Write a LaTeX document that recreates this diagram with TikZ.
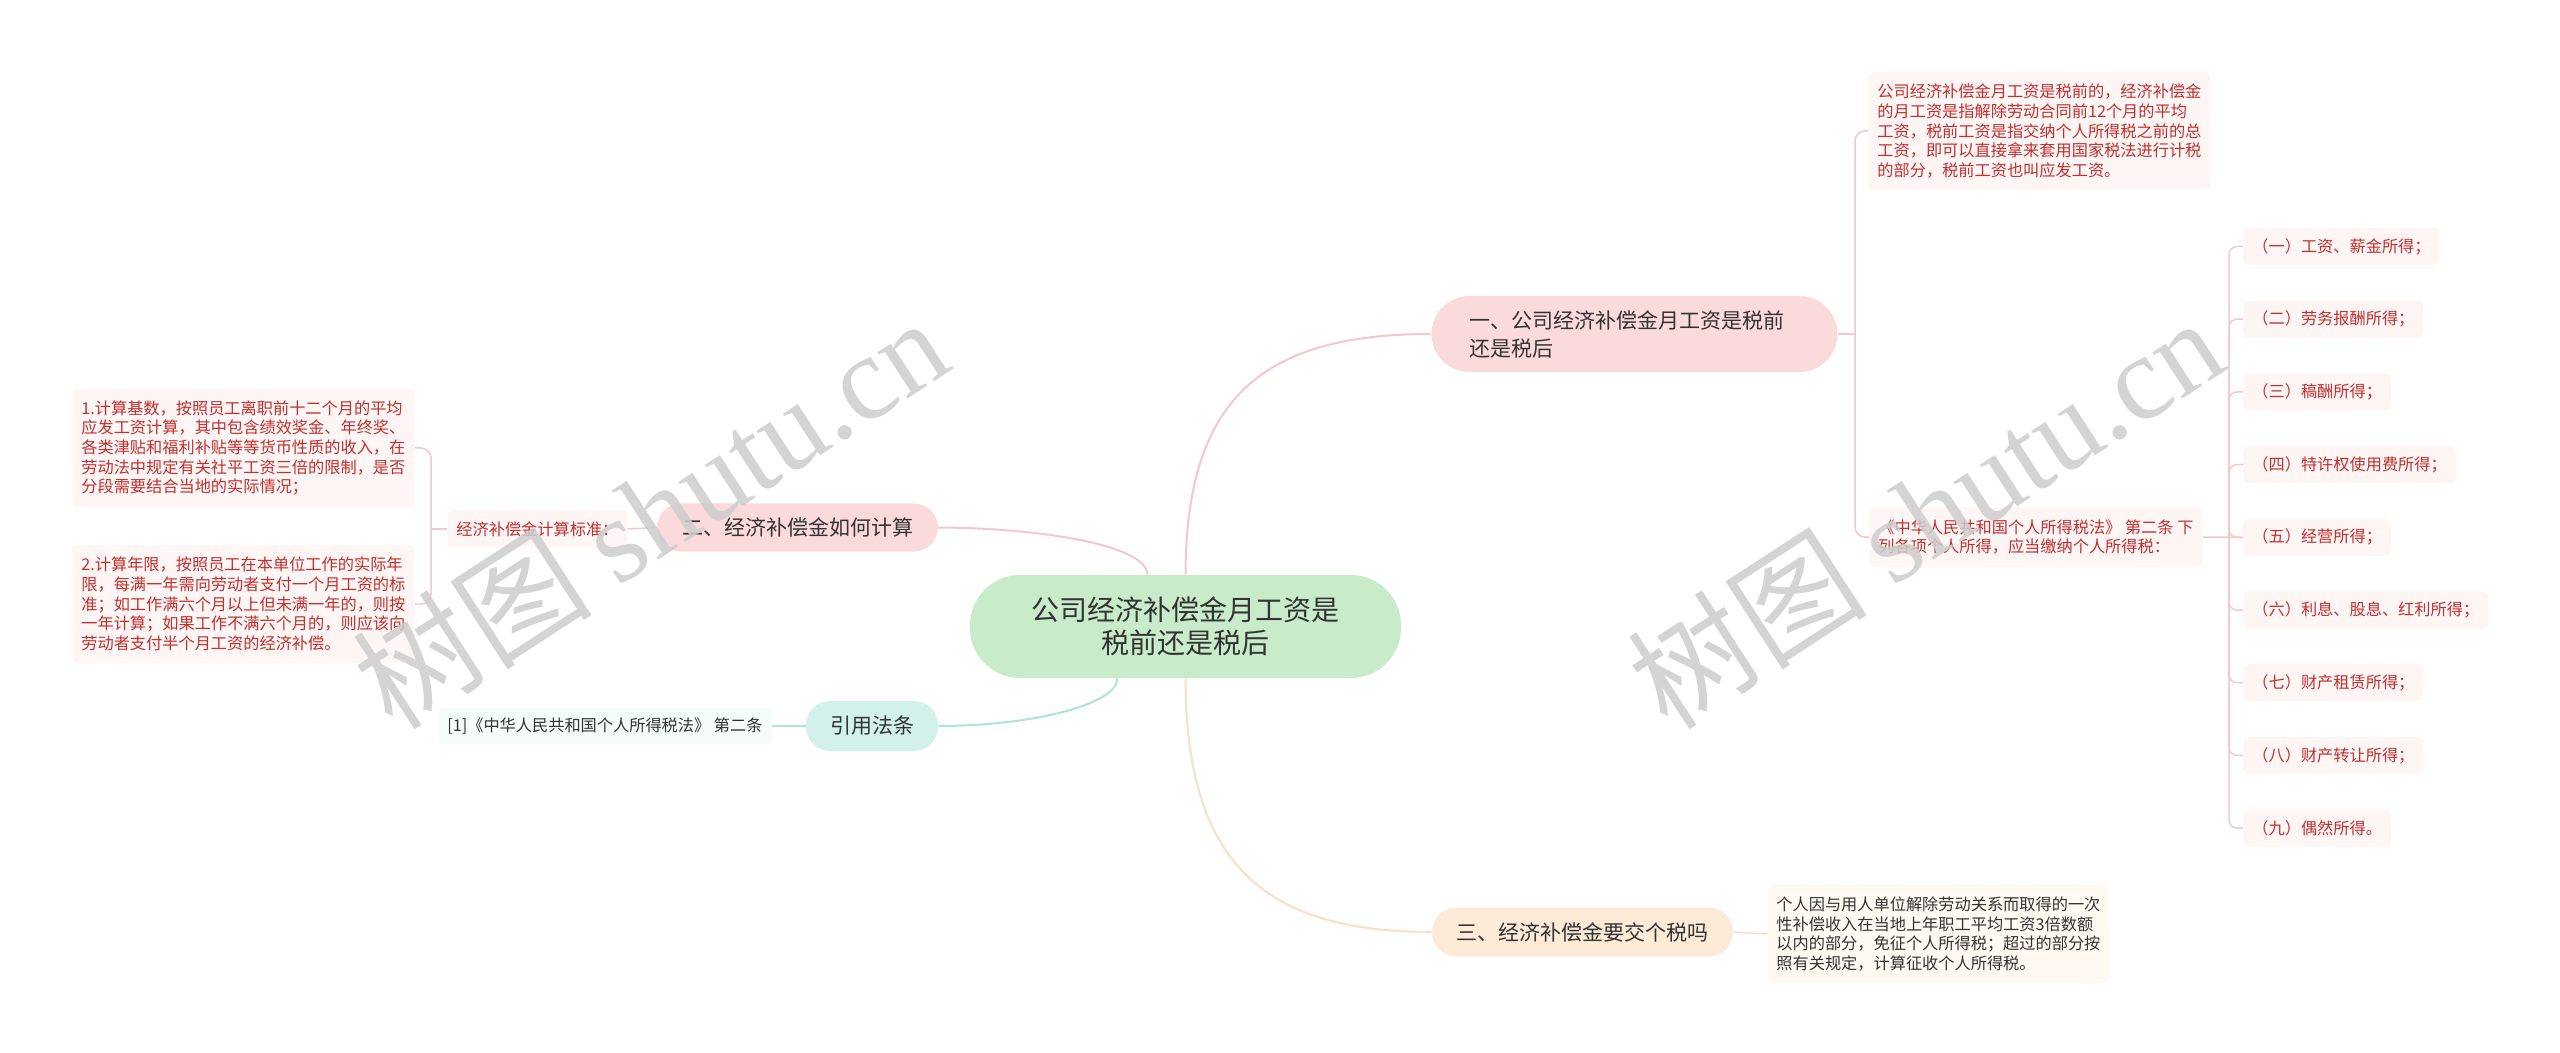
\documentclass[tikz,border=0pt]{standalone}
\usepackage{fontspec}
\setmainfont{Noto Sans CJK SC}
\newfontfamily\marklatin{Liberation Serif}
\usepackage{xcolor}
\definecolor{maptext}{HTML}{333333}
\definecolor{mapred}{HTML}{C0302E}
\definecolor{rootgreen}{HTML}{C8EBCA}
\definecolor{secpink}{HTML}{FADADB}
\definecolor{secteal}{HTML}{D2F1EA}
\definecolor{secpeach}{HTML}{FDEBD8}
\definecolor{leafpink}{HTML}{FEF5F5}
\definecolor{leafteal}{HTML}{F4FBF9}
\definecolor{leafpeach}{HTML}{FFF9F2}
\definecolor{linepink}{HTML}{F3C8CA}
\definecolor{lineteal}{HTML}{AEE3D7}
\definecolor{linepeach}{HTML}{FBDEC5}
\definecolor{marktext}{HTML}{CDCDCD}

\begin{document}
\begin{tikzpicture}[
  x=0.5pt,
  y=-0.5pt,
  every node/.style={text=maptext},
  rootbox/.style={fill=rootgreen, rounded corners=25pt, align=center,
    font=\fontsize{14}{16.5}\selectfont, minimum width=215.5pt, minimum height=51.5pt},
  secbox/.style={rounded corners=12pt, font=\fontsize{10.5}{14}\selectfont, minimum height=24pt},
  leafbox/.style={rounded corners=2.5pt, align=left, anchor=west,
    font=\fontsize{8.1}{9.8}\selectfont, inner xsep=4.5pt, inner ysep=6pt},
  redleaf/.style={leafbox, fill=leafpink, text=mapred},
  itembox/.style={redleaf, inner ysep=0pt, minimum height=18.5pt},
  trunk/.style={line width=1pt},
  twig/.style={line width=0.75pt},
  watermark/.style={text=marktext, text opacity=0.85, font=\fontsize{60}{60}\selectfont, rotate=33}
]
  % ---- page, same size as the screenshot -------------------------------
  \useasboundingbox (0,0) rectangle (2560,1053);

  % ---- centre topic ----------------------------------------------------
  \node[rootbox] (root) at (1185.5,626.5) {公司经济补偿金月工资是\\税前还是税后};

  % ---- the four main topics --------------------------------------------
  \node[secbox, fill=secpink, align=left, text width=165pt, inner xsep=19pt,
        minimum height=38pt, rounded corners=19pt] (pretax) at (1634.5,334)
    {一、公司经济补偿金月工资是税前\\还是税后};
  \node[secbox, fill=secpink, minimum width=140.5pt] (calc) at (797.5,527.5)
    {二、经济补偿金如何计算};
  \node[secbox, fill=secteal, minimum width=66pt, minimum height=25pt] (cite) at (872,726)
    {引用法条};
  \node[secbox, fill=secpeach, minimum width=150.5pt, minimum height=24.5pt] (tax) at (1582.5,932)
    {三、经济补偿金要交个税吗};

  % ---- trunk curves ----------------------------------------------------
  \draw[trunk, linepink] (root.north) .. controls (1186,400) and (1260,334) .. (pretax.west);
  \draw[trunk, linepink] ([xshift=-19pt]root.north) .. controls (1147,545) and (1040,528) .. (calc.east);
  \draw[trunk, lineteal] ([xshift=-34pt]root.south) .. controls (1117,705) and (1030,726) .. (cite.east);
  \draw[trunk, linepeach] (root.south) .. controls (1186,860) and (1260,932) .. (tax.west);

  % ---- first topic: leaves ---------------------------------------------
  \node[redleaf] (pretaxnote) at (1868,131)
    {公司经济补偿金月工资是税前的，经济补偿金\\的月工资是指解除劳动合同前12个月的平均\\工资，税前工资是指交纳个人所得税之前的总\\工资，即可以直接拿来套用国家税法进行计税\\的部分，税前工资也叫应发工资。};
  \node[redleaf] (lawtwo) at (1869,537)
    {《中华人民共和国个人所得税法》 第二条 下\\列各项个人所得，应当缴纳个人所得税：};
  \coordinate (pretaxfork) at (1855,334);
  \draw[twig, linepink] (pretax.east) -- (pretaxfork);
  \draw[twig, linepink, rounded corners=5pt] (pretaxnote.west) -| (pretaxfork) |- (lawtwo.west);

  % ---- the nine kinds of income ----------------------------------------
  \foreach \k/\txt in {1/（一）工资、薪金所得；, 2/（二）劳务报酬所得；, 3/（三）稿酬所得；,
      4/（四）特许权使用费所得；, 5/（五）经营所得；, 6/（六）利息、股息、红利所得；,
      7/（七）财产租赁所得；, 8/（八）财产转让所得；, 9/（九）偶然所得。}
    \node[itembox] (income\k) at (2243,{246.5+72.7*(\k-1)}) {\txt};
  \coordinate (incomefork) at (2229,537);
  \draw[twig, linepink] (lawtwo.east) -- (income5.west);
  \foreach \k in {1,...,9}
    \draw[twig, linepink, rounded corners=4pt] (income\k.west) -| (incomefork);

  % ---- second topic: leaves --------------------------------------------
  \node[redleaf, inner ysep=0pt, minimum height=18.5pt] (calcrule) at (447,529)
    {经济补偿金计算标准：};
  \node[redleaf] (calcbase) at (72,448)
    {1.计算基数，按照员工离职前十二个月的平均\\应发工资计算，其中包含绩效奖金、年终奖、\\各类津贴和福利补贴等等货币性质的收入，在\\劳动法中规定有关社平工资三倍的限制，是否\\分段需要结合当地的实际情况；};
  \node[redleaf] (calcyears) at (72,604)
    {2.计算年限，按照员工在本单位工作的实际年\\限，每满一年需向劳动者支付一个月工资的标\\准；如工作满六个月以上但未满一年的，则按\\一年计算；如果工作不满六个月的，则应该向\\劳动者支付半个月工资的经济补偿。};
  \coordinate (calcfork) at (431,529);
  \draw[twig, linepink] (calc.west) -- (calcrule.east);
  \draw[twig, linepink] (calcrule.west) -- (calcfork);
  \draw[twig, linepink, rounded corners=5pt] (calcbase.east) -| (calcfork) |- (calcyears.east);

  % ---- cited law -------------------------------------------------------
  \node[leafbox, fill=leafteal, inner ysep=0pt, minimum height=18.5pt] (citelaw) at (438,726)
    {[1]《中华人民共和国个人所得税法》 第二条};
  \draw[twig, lineteal] (cite.west) -- (citelaw.east);

  % ---- third topic -----------------------------------------------------
  \node[leafbox, fill=leafpeach] (taxnote) at (1767,934)
    {个人因与用人单位解除劳动关系而取得的一次\\性补偿收入在当地上年职工平均工资3倍数额\\以内的部分，免征个人所得税；超过的部分按\\照有关规定，计算征收个人所得税。};
  \draw[twig, linepeach] (tax.east) -- (taxnote.west);

  % ---- site marks ------------------------------------------------------
  \node[watermark] (markleft) at (650,512) {树图 {\marklatin shutu.cn}};
  \node[watermark] (markright) at (1925,512) {树图 {\marklatin shutu.cn}};
\end{tikzpicture}
\end{document}
